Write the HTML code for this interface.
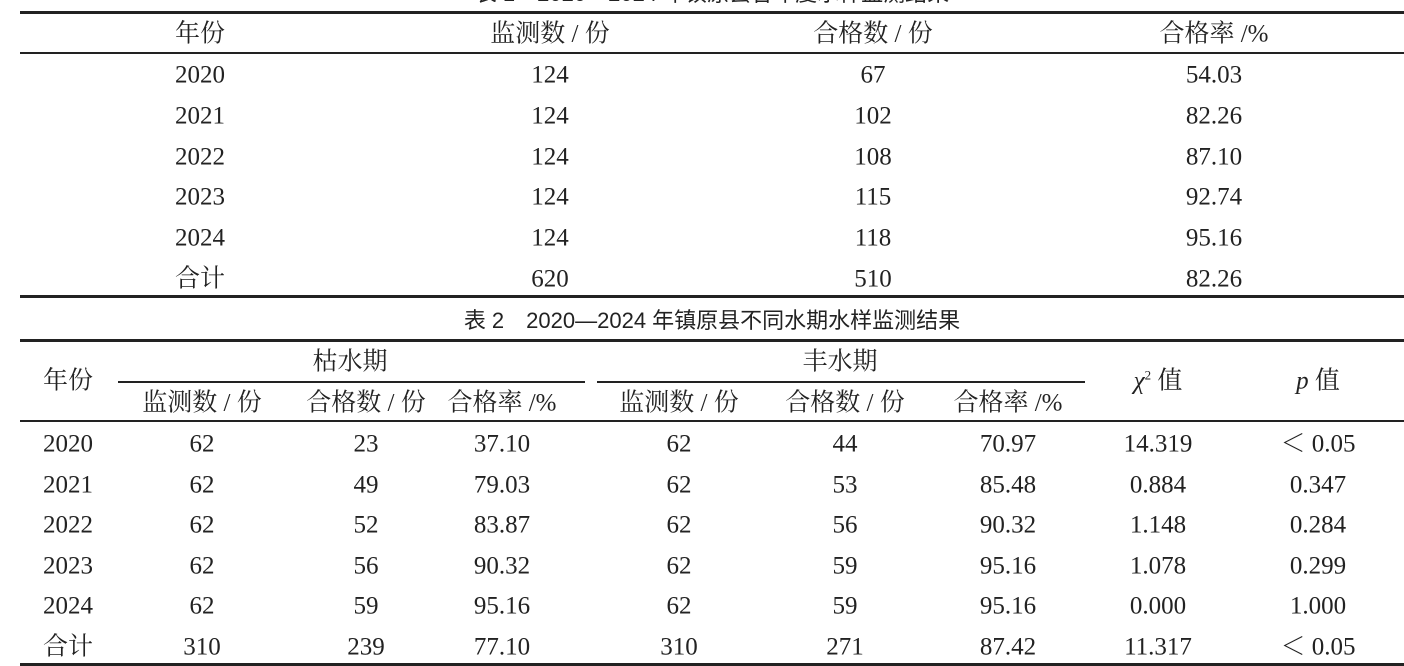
<!DOCTYPE html>
<html><head><meta charset="utf-8">
<style>
html,body{margin:0;padding:0;background:#fff;}
#page{position:relative;width:1404px;height:666px;overflow:hidden;background:#fff;
 font-family:"Liberation Serif","Noto Serif CJK SC",serif;color:#222;font-size:25px;}
.t{position:absolute;white-space:nowrap;transform:translate(-50%,-50%);line-height:1;}
.ln{position:absolute;background:#222;}
.ttl{font-family:"Liberation Sans","Noto Sans CJK SC",sans-serif;font-size:22px;}
</style></head>
<body>
<div id="page">
 <div class="t ttl" style="left:712px;top:-6px;">表 1　2020—2024 年镇原县各年度水样监测结果</div>
 <div class="ln" style="left:20px;top:11px;width:1384px;height:3px;"></div>
 <div class="ln" style="left:20px;top:52px;width:1384px;height:2px;"></div>
 <div class="ln" style="left:20px;top:295px;width:1384px;height:3px;"></div>
 <div class="t ttl" style="left:712px;top:321px;">表 2　2020—2024 年镇原县不同水期水样监测结果</div>
 <div class="ln" style="left:20px;top:339px;width:1384px;height:3px;"></div>
 <div class="ln" style="left:118px;top:381px;width:467px;height:2px;"></div>
 <div class="ln" style="left:597px;top:381px;width:488px;height:2px;"></div>
 <div class="ln" style="left:20px;top:420px;width:1384px;height:2px;"></div>
 <div class="ln" style="left:20px;top:663px;width:1384px;height:3px;"></div>
</div>
<script>
const t1Header=["年份","监测数 / 份","合格数 / 份","合格率 /%"];
const t1Rows=[["2020","124","67","54.03"],["2021","124","102","82.26"],["2022","124","108","87.10"],["2023","124","115","92.74"],["2024","124","118","95.16"],["合计","620","510","82.26"]];
const t2Sub=["监测数 / 份","合格数 / 份","合格率 /%","监测数 / 份","合格数 / 份","合格率 /%"];
const t2Rows=[["2020","62","23","37.10","62","44","70.97","14.319","＜ 0.05"],["2021","62","49","79.03","62","53","85.48","0.884","0.347"],["2022","62","52","83.87","62","56","90.32","1.148","0.284"],["2023","62","56","90.32","62","59","95.16","1.078","0.299"],["2024","62","59","95.16","62","59","95.16","0.000","1.000"],["合计","310","239","77.10","310","271","87.42","11.317","＜ 0.05"]];
const t1X=[200,550,873,1214];
const t2X=[68,202,366,502,679,845,1008,1158,1318];
const page=document.getElementById('page');
function put(txt,x,y,name,html){
 const d=document.createElement('div');d.className='t';
 d.style.left=x+'px';d.style.top=y+'px';
 if(html)d.innerHTML=txt;else d.textContent=txt;
 
 
 page.appendChild(d);}
t1Header.forEach((h,i)=>put(h,t1X[i],34,'table1-header-cell'));
t1Rows.forEach((r,ri)=>r.forEach((c,ci)=>put(c,t1X[ci],75+ri*40.8,'table1-cell')));
put('年份',68,381,'table2-year-header');
put('枯水期',350,362,'dry-season-header');
put('丰水期',840,362,'wet-season-header');
put('<i>χ</i><sup style="font-size:13px;vertical-align:9px">2</sup> 值',1158,381,'chi-square-header',true);
put('<i>p</i> 值',1318,381,'p-value-header',true);
t2Sub.forEach((h,i)=>put(h,t2X[i+1],403,'table2-subheader-cell'));
t2Rows.forEach((r,ri)=>r.forEach((c,ci)=>put(c,t2X[ci],444+ri*40.6,'table2-cell')));
</script>
</body></html>
